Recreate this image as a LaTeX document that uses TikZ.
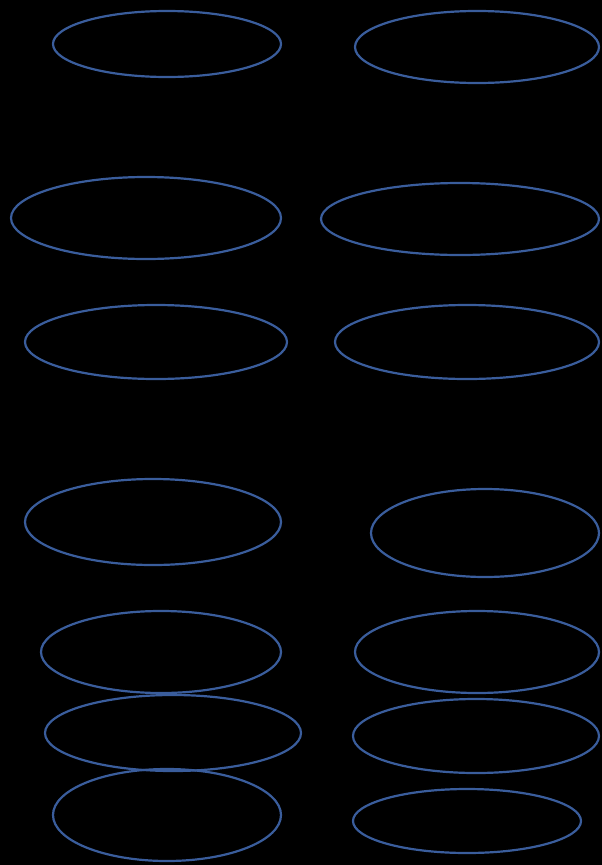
\documentclass[tikz,border=0pt]{standalone}
\usetikzlibrary{shapes.geometric}
\definecolor{ringblue}{HTML}{3A5D9C}
\begin{document}
\begin{tikzpicture}[x=1pt,y=-1pt,
  ring/.style={draw=ringblue, line width=2.2pt, ellipse, inner sep=0pt}]
\fill[black] (0,0) rectangle (602,865);
\useasboundingbox (0,0) rectangle (602,865);
\node[ring, minimum width=228pt, minimum height=66pt] (l1) at (167,44) {};
\node[ring, minimum width=244pt, minimum height=72pt] (r1) at (477,47) {};
\node[ring, minimum width=270pt, minimum height=82pt] (l2) at (146,218) {};
\node[ring, minimum width=278pt, minimum height=72pt] (r2) at (460,219) {};
\node[ring, minimum width=262pt, minimum height=74pt] (l3) at (156,342) {};
\node[ring, minimum width=264pt, minimum height=74pt] (r3) at (467,342) {};
\node[ring, minimum width=256pt, minimum height=86pt] (l4) at (153,522) {};
\node[ring, minimum width=228pt, minimum height=88pt] (r4) at (485,533) {};
\node[ring, minimum width=240pt, minimum height=82pt] (l5) at (161,652) {};
\node[ring, minimum width=244pt, minimum height=82pt] (r5) at (477,652) {};
\node[ring, minimum width=256pt, minimum height=76pt] (l6) at (173,733) {};
\node[ring, minimum width=246pt, minimum height=74pt] (r6) at (476,736) {};
\node[ring, minimum width=228pt, minimum height=92pt] (l7) at (167,815) {};
\node[ring, minimum width=228pt, minimum height=64pt] (r7) at (467,821) {};
\end{tikzpicture}
\end{document}
